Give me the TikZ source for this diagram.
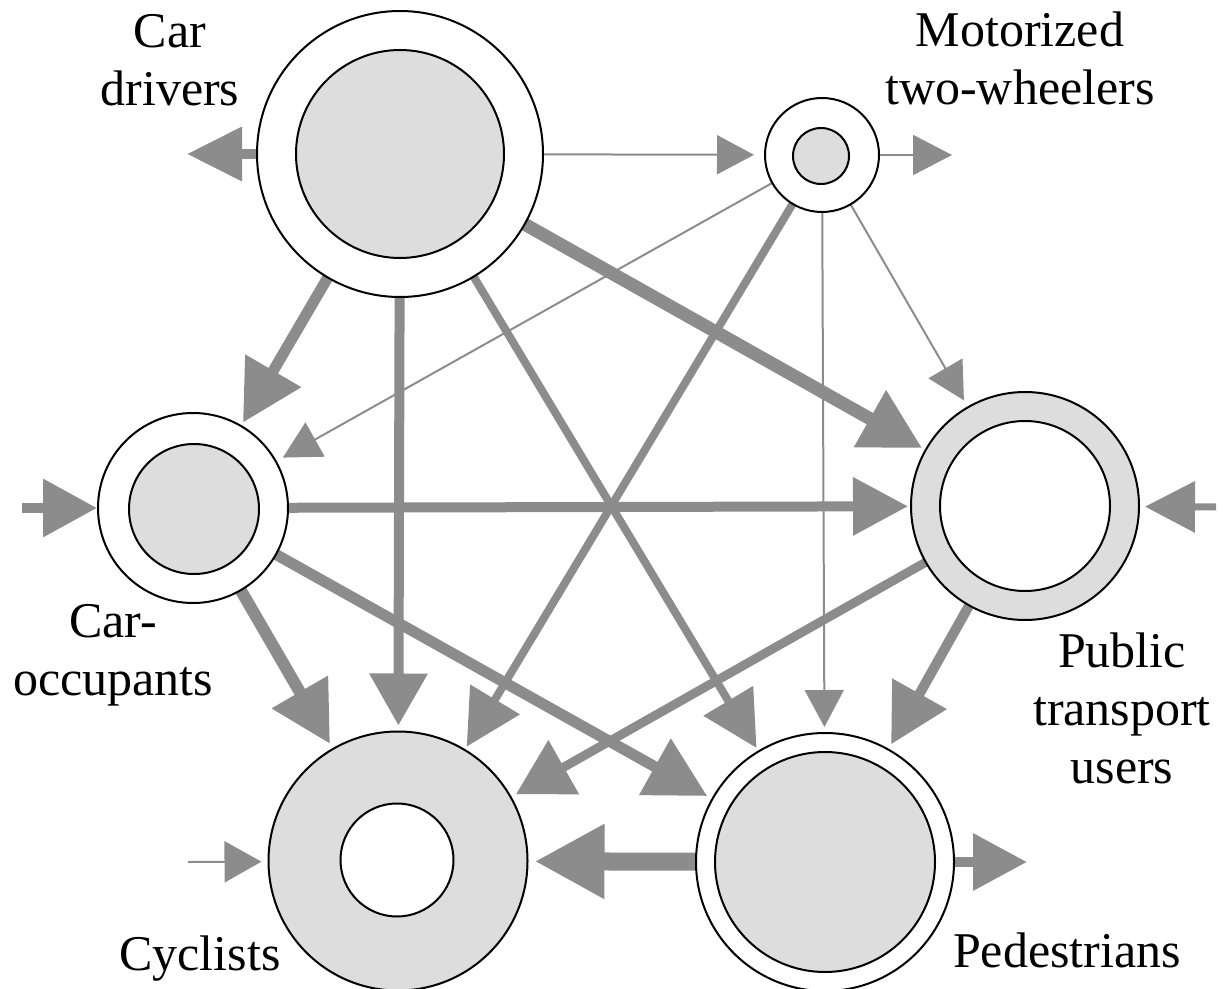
\documentclass[tikz,border=0pt]{standalone}
\usepackage{fontspec}
\setmainfont{Liberation Serif}
\usetikzlibrary{arrows.meta}
\definecolor{ag}{RGB}{140,140,140}
\definecolor{fg}{RGB}{221,221,221}
\pgfdeclarelayer{bg}
\pgfsetlayers{bg,main}
\begin{document}
\begin{tikzpicture}[x=0.5pt,y=-0.5pt,
  ring/.style={circle, draw=black, line width=1pt, inner sep=0pt, outer sep=0pt},
  lab/.style={font=\fontsize{25}{29}\selectfont, inner sep=0pt, anchor=base},
  hd/.style 2 args={arrows={-{Triangle[length=#1pt,width=#2pt]}}},
  conn/.style={draw=ag, shorten >=3pt},
  ta/.style={conn, line width=1pt, hd={18.5}{19.5}},
  ma/.style={conn, line width=4.5pt, hd={27.5}{28}},
  ka/.style={conn, line width=6pt, hd={30}{31}},
  free/.style={shorten >=0pt}
]
\useasboundingbox (0,0) rectangle (1225,989);

% circles
\node[ring, fill=white, minimum size=143pt] (cd) at (400,154) {};
\node[ring, fill=fg, minimum size=104pt] (cdi) at (400,154) {};
\node[ring, fill=white, minimum size=57pt] (mtw) at (822,155) {};
\node[ring, fill=fg, minimum size=28pt] (mtwi) at (821,156) {};
\node[ring, fill=white, minimum size=95pt] (co) at (193,508) {};
\node[ring, fill=fg, minimum size=65pt] (coi) at (194,509) {};
\node[ring, fill=fg, minimum size=114pt] (pt) at (1025,506) {};
\node[ring, fill=white, minimum size=85pt] (pti) at (1025,506) {};
\node[ring, fill=fg, minimum size=129.5pt] (cyc) at (398,861) {};
\node[ring, fill=white, minimum size=56.5pt] (cyci) at (397,860) {};
\node[ring, fill=white, minimum size=129pt] (ped) at (825,862) {};
\node[ring, fill=fg, minimum size=110pt] (pedi) at (825,862) {};

% free ends
\coordinate (cdout) at (187,154);
\coordinate (mtwout) at (952,155);
\coordinate (coin) at (22,508);
\coordinate (ptin) at (1216,507);
\coordinate (pedout) at (1027,862);
\coordinate (cycin) at (188,862);

% labels
\node[lab] (lcd) at (170,48) {\begin{tabular}[t]{@{}c@{}}Car\\drivers\end{tabular}};
\node[lab] (lmtw) at (1020,47) {\begin{tabular}[t]{@{}c@{}}Motorized\\two-wheelers\end{tabular}};
\node[lab] (lco) at (113,637) {\begin{tabular}[t]{@{}c@{}}Car-\\occupants\end{tabular}};
\node[lab] (lpt) at (1122,667) {\begin{tabular}[t]{@{}c@{}}Public\\transport\\users\end{tabular}};
\node[lab] (lcyc) at (200,970) {Cyclists};
\node[lab] (lped) at (1067,967) {Pedestrians};

\begin{pgfonlayer}{bg}
\draw[ma, free, line width=5pt, hd={27.5}{26}] (cd) -- (cdout);
\draw[ta, shorten >=5.5pt] (cd) -- (mtw);
\draw[ta, free, hd={19.5}{20}] (mtw) -- (mtwout);
\draw[ka, line width=5.5pt, shorten >=2pt] (cd) -- (co);
\draw[ma, line width=5pt, hd={26}{28}, shorten >=3pt] (cd) -- (cyc);
\draw[ka, line width=6.5pt, shorten >=2pt] (cd) -- (pt);
\draw[ma, line width=4pt, shorten >=2pt] (cd) -- (ped);
\draw[ta, shorten >=4pt] (mtw) -- (co);
\draw[ma, line width=4pt, shorten >=2pt] (mtw) -- (cyc);
\draw[ta, shorten >=3pt] (mtw) -- (ped);
\draw[ta, shorten >=4pt] (mtw) -- (pt);
\draw[ma, line width=5pt, hd={27}{28}, shorten >=0.5pt] (coin) -- (co);
\draw[ma, line width=5pt, shorten >=1.5pt] (co) -- (pt);
\draw[ka, line width=6pt] (co) -- (cyc);
\draw[ka, line width=5.5pt] (co) -- (ped);
\draw[ma, line width=3.5pt, hd={25}{25}, shorten >=3pt] (ptin) -- (pt);
\draw[ma, line width=4.5pt, hd={27.5}{30}] (pt) -- (cyc);
\draw[ka, line width=5pt, hd={29}{30}] (pt) -- (ped);
\draw[ka, line width=9pt, hd={35}{35}, shorten >=3.5pt] (ped) -- (cyc);
\draw[ma, free, line width=5pt, hd={27}{27.5}] (ped) -- (pedout);
\draw[ta, hd={18.5}{20.5}, shorten >=3.5pt] (cycin) -- (cyc);
\end{pgfonlayer}
\end{tikzpicture}
\end{document}
